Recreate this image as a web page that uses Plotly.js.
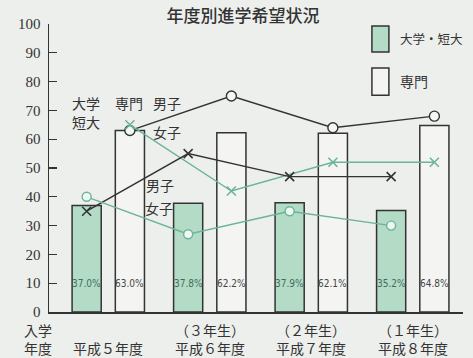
<!DOCTYPE html>
<html><head><meta charset="utf-8">
<script src="https://cdn.plot.ly/plotly-3.0.1.min.js"></script>
<style>html,body{margin:0;padding:0;background:#edefec;}#chart{width:473px;height:358px;}</style>
</head><body><div id="chart"></div>
<script>
// ---- data ----
const years = ['平成５年度', '平成６年度', '平成７年度', '平成８年度'];
const grades = ['', '（３年生）', '（２年生）', '（１年生）'];
const seriesNames = ['大学・短大', '専門'];
const univPct = [37.0, 37.8, 37.9, 35.2];
const senmonPct = [63.0, 62.2, 62.1, 64.8];
const univMale = [35, 55, 47, 47];
const univFemale = [40, 27, 35, 30];
const senmonMale = [63, 75, 64, 68];
const senmonFemale = [65, 42, 52, 52];

// ---- layout helpers ----
const idx = years.map((_, i) => i);
const off = 0.213;
const xU = idx.map(i => i - off);
const xS = idx.map(i => i + off);
const dark = '#333333';
const greenFill = '#b3dbc6';
const greenLine = '#6bb49b';
const jp = 'Noto Sans CJK JP, sans-serif';
const narrow = 'Liberation Sans Narrow, DejaVu Sans Condensed, Liberation Sans, sans-serif';
const serif = 'Liberation Serif, Times New Roman, DejaVu Serif, serif';

const traces = [
  {type:'bar', x:xU, y:univPct, width:0.287, name:seriesNames[0],
   marker:{color:greenFill, line:{color:dark, width:1.5}}, hoverinfo:'skip'},
  {type:'bar', x:xS, y:senmonPct, width:0.287, name:seriesNames[1],
   marker:{color:'#f4f5f3', line:{color:dark, width:1.5}}, hoverinfo:'skip'},
  {type:'scatter', mode:'lines+markers', x:xS, y:senmonMale,
   line:{color:dark, width:1.4},
   marker:{symbol:'circle', size:10, color:'#f6f7f5', line:{color:dark, width:1.4}}},
  {type:'scatter', mode:'lines+markers', x:xS, y:senmonFemale,
   line:{color:greenLine, width:1.4},
   marker:{symbol:'x-thin-open', size:9, color:greenLine, line:{color:greenLine, width:1.6}}},
  {type:'scatter', mode:'lines+markers', x:xU, y:univMale,
   line:{color:dark, width:1.4},
   marker:{symbol:'x-thin-open', size:9, color:dark, line:{color:dark, width:1.6}}},
  {type:'scatter', mode:'lines+markers', x:xU, y:univFemale,
   line:{color:greenLine, width:1.4},
   marker:{symbol:'circle', size:9, color:'#eef7f2', line:{color:greenLine, width:1.4}}}
];

const annotations = [];
function ann(o) { annotations.push(Object.assign({showarrow:false, xanchor:'center', yanchor:'middle'}, o)); }
idx.forEach(i => {
  ann({x:xU[i], y:10, xref:'x', yref:'y', text:univPct[i].toFixed(1)+'%',
    font:{family:narrow, size:10, color:'#3f6e5d'}});
  ann({x:xS[i], y:10, xref:'x', yref:'y', text:senmonPct[i].toFixed(1)+'%',
    font:{family:narrow, size:10, color:'#444'}});
});
const inLabels = [
  ['大学', -0.217, 72.6], ['短大', -0.217, 66], ['専門', 0.207, 72.6],
  ['男子', 0.58, 72.6], ['女子', 0.58, 62.5], ['男子', 0.512, 44.1], ['女子', 0.50, 36.1]
];
inLabels.forEach(l => ann({x:l[1], y:l[2], xref:'x', yref:'y', text:l[0],
  font:{family:jp, size:14, color:dark}}));
// legend text
ann({x:0.843, y:0.948, xref:'paper', yref:'paper', text:seriesNames[0],
  xanchor:'left', font:{family:jp, size:12.5, color:dark}});
ann({x:0.843, y:0.802, xref:'paper', yref:'paper', text:seriesNames[1],
  xanchor:'left', font:{family:jp, size:14, color:dark}});
// x axis side label
ann({x:-0.027, y:-0.094, xref:'paper', yref:'paper', text:'入学<br>年度', font:{family:jp, size:14, color:dark}});
// category labels
idx.forEach(i => {
  if (grades[i]) {
    ann({x:i, y:-0.094, xref:'x', yref:'paper', text:grades[i] + '<br>' + years[i],
      font:{family:jp, size:14, color:dark}});
  } else {
    ann({x:i, y:-0.125, xref:'x', yref:'paper', text:years[i], font:{family:jp, size:14, color:dark}});
  }
});

const layout = {
  width:473, height:358,
  margin:{l:49, r:10, t:24, b:46},
  paper_bgcolor:'#edefec', plot_bgcolor:'#edefec',
  showlegend:false,
  title:{text:'年度別進学希望状況', font:{family:jp, size:17, color:dark, weight:500},
    x:243/473, xref:'container', xanchor:'center', y:1-16/358, yref:'container', yanchor:'middle'},
  xaxis:{range:[-0.584, 3.495], showline:true, linecolor:dark, linewidth:1.5, showgrid:false,
    zeroline:false, showticklabels:false, ticks:'', fixedrange:true},
  yaxis:{range:[0, 100], tickvals:[0,10,20,30,40,50,60,70,80,90,100], showline:true, linecolor:dark,
    linewidth:1.5, ticks:'inside', ticklen:8, tickcolor:dark, tickwidth:1.3, showgrid:false, zeroline:false,
    tickfont:{family:serif, size:15, color:dark}, ticklabelstandoff:4},
  shapes:[
    {type:'rect', xref:'paper', yref:'paper', x0:0.780, x1:0.821, y0:0.903, y1:0.993,
     fillcolor:greenFill, line:{color:dark, width:1.5}},
    {type:'rect', xref:'paper', yref:'paper', x0:0.780, x1:0.821, y0:0.753, y1:0.847,
     fillcolor:'#f4f5f3', line:{color:dark, width:1.5}}
  ],
  annotations:annotations
};
Plotly.newPlot('chart', traces, layout, {displayModeBar:false, staticPlot:true});
</script></body></html>
